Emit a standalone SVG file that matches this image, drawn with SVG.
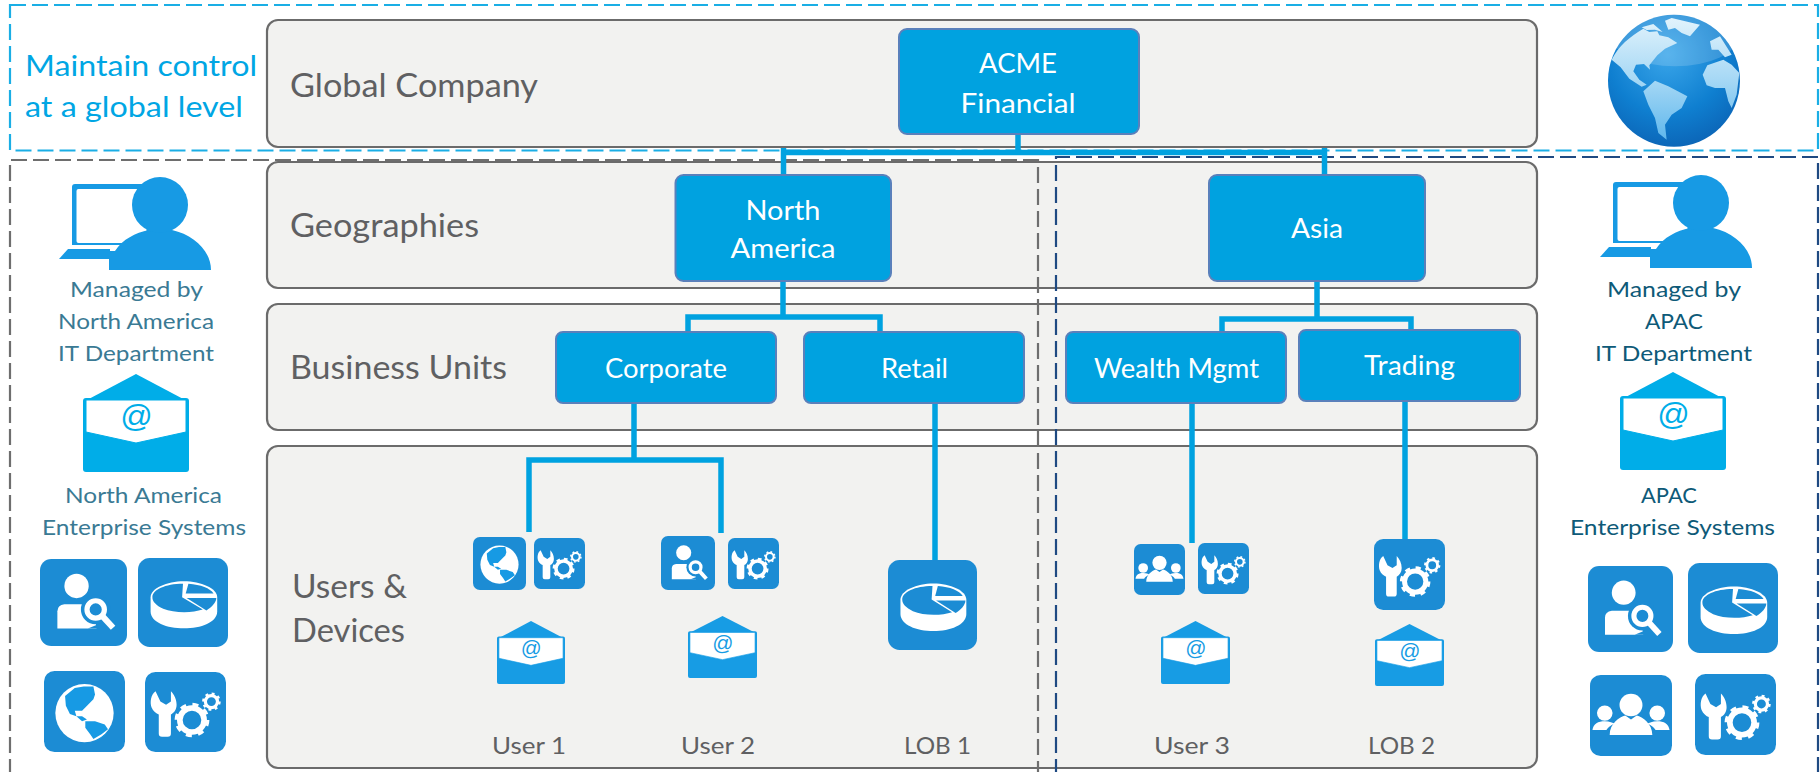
<svg xmlns="http://www.w3.org/2000/svg" width="1820" height="772" viewBox="0 0 1820 772">
<style>
text{font-family:Lato,"Liberation Sans",sans-serif}
.layer{fill:#f2f2f0;stroke:#6b6b6b;stroke-width:2.2}
.node{fill:#00a2e0;stroke:#5a80bb;stroke-width:2}
.lt{fill:#5f6062;font-size:32px}
.nt{fill:#fff;font-size:27px;text-anchor:middle}
.ut{fill:#5f6062;font-size:24px}
.sl{fill:#3a7a94;font-size:22px}
.sr{fill:#0e5a78;font-size:22px}
.ct{fill:#00a6e4;font-size:29px}
.dash{fill:none;stroke-width:2.2;stroke-dasharray:16 6}
.conn{fill:none;stroke:#00a2e0;stroke-width:5.5}
.at{font-family:"Liberation Sans",sans-serif;font-style:italic;font-size:32px;text-anchor:middle;fill:currentColor}
</style>
<defs>
<radialGradient id="ocean" cx="45%" cy="30%" r="75%"><stop offset="0" stop-color="#3aa6ea"/><stop offset=".6" stop-color="#0f7fd0"/><stop offset="1" stop-color="#0b62b4"/></radialGradient>
<linearGradient id="land" gradientUnits="userSpaceOnUse" x1="0" y1="30" x2="0" y2="400"><stop offset="0" stop-color="#e2f3fc"/><stop offset=".5" stop-color="#a6d8f5"/><stop offset="1" stop-color="#5db6ec"/></linearGradient>
<symbol id="manager" viewBox="0 0 153 94" preserveAspectRatio="none">
<rect x="13" y="7" width="80" height="64" rx="3" fill="#179ae4"/><rect x="17.500" y="12" width="70" height="54" rx="2" fill="#fff"/>
<rect x="13" y="68" width="50" height="5" fill="#fff"/>
<path d="M0,82 L9,72 H51 V82Z" fill="#179ae4"/>
<path d="M50,93 V74 H56 C64,62 76,56 90,53 H113 C135,58 152,74 152,93Z" fill="#179ae4"/>
<circle cx="101" cy="28" r="28" fill="#179ae4"/>
</symbol>
<symbol id="envelope" viewBox="0 0 106 98" preserveAspectRatio="none">
<rect x="0" y="24" width="106" height="74" rx="3" fill="currentColor"/>
<path d="M53,0 L104,27 H2Z" fill="currentColor"/>
<path d="M3,26 H103 V58 L53,69 L3,58Z" fill="#fff" stroke="currentColor" stroke-width="1"/>
<text class="at" x="53" y="53">@</text>
</symbol>
<symbol id="i-search" viewBox="0 0 100 100" preserveAspectRatio="none">
<rect width="100" height="100" rx="13" fill="#1c8cd4"/>
<circle cx="42" cy="31" r="14" fill="#fff"/>
<path d="M20,80 V60 Q20,53 28,52 H52 Q60,53 62,58 L65,80Z" fill="#fff"/>
<circle cx="64" cy="58" r="17" fill="#1c8cd4"/>
<path d="M55,80 L72,73 L80,80Z" fill="#1c8cd4"/>
<circle cx="64" cy="58" r="10" fill="none" stroke="#fff" stroke-width="6"/>
<path d="M72,66 L84,79" stroke="#fff" stroke-width="7"/>
</symbol>
<symbol id="i-pie" viewBox="0 0 100 100" preserveAspectRatio="none">
<rect width="100" height="100" rx="13" fill="#1c8cd4"/>
<path d="M14,44 V60 C14,72 32,79 51,79 C70,79 88,72 88,60 V44 C88,34 70,26 51,26 C32,26 14,34 14,44Z" fill="#fff"/>
<path d="M50,29 L49,44 L72,58 C60,62 40,62 28,57 C20,53 16,49 16,44 C16,36 30,29 50,29Z" fill="#1c8cd4"/>
<path d="M56,29 C70,30 80,34 84,40 L53,40Z" fill="#1c8cd4"/>
<path d="M54,45 L87,45 C87,50 82,55 76,59Z" fill="#1c8cd4"/>
</symbol>
<symbol id="i-globe" viewBox="0 0 100 100" preserveAspectRatio="none">
<rect width="100" height="100" rx="13" fill="#1c8cd4"/>
<circle cx="50" cy="52" r="36" fill="#fff"/>
<path d="M26,31 L38,21 L49,19 L61,19 L63,29 L61,35 L51,45 L47,49 L38,49 L40,56 L32,53 L27,43Z" fill="#179ae4"/>
<path d="M40,56 L47,56 L53,60 L47,62 Z" fill="#179ae4"/>
<path d="M51,62 L63,62 L75,66 L79,72 L71,78 L61,84 L57,78 L51,70Z" fill="#179ae4"/>
<path d="M62,87 C72,84 80,76 84,66 L78,76 L68,84Z" fill="#179ae4"/>
</symbol>
<g id="gears">
<circle cx="58" cy="60" r="15" fill="none" stroke="#fff" stroke-width="7"/>
<circle cx="58" cy="60" r="18.500" fill="none" stroke="#fff" stroke-width="6" stroke-dasharray="7 7.530"/>
<circle cx="82" cy="37" r="7.500" fill="none" stroke="#fff" stroke-width="4"/>
<circle cx="82" cy="37" r="10" fill="none" stroke="#fff" stroke-width="3" stroke-dasharray="3.500 4.350"/>
</g>
<symbol id="i-tool" viewBox="0 0 100 100" preserveAspectRatio="none">
<rect width="100" height="100" rx="13" fill="#1c8cd4"/>
<path d="M13,24 C7,28 6,38 8,44 C10,49 14,52 17,53 V77 Q17,81 21,81 H28 Q32,81 32,77 V53 C36,51 39,47 39,41 C39,34 36,28 32,24 V37 L26,41 L19,37Z" fill="#fff"/>
<use href="#gears"/>
</symbol>
<symbol id="i-people" viewBox="0 0 100 100" preserveAspectRatio="none">
<rect width="100" height="100" rx="13" fill="#1c8cd4"/>
<circle cx="50" cy="37" r="14" fill="#fff"/>
<path d="M24,74 C24,60 36,52 43,50 L50,55 L57,50 C64,52 76,60 76,74Z" fill="#fff"/>
<circle cx="18" cy="47" r="9.500" fill="#fff"/><circle cx="82" cy="47" r="9.500" fill="#fff"/>
<path d="M3,68 C4,60 10,57 18,57 C24,57 28,59 30,60 C24,63 21,66 20,68Z" fill="#fff"/>
<path d="M97,68 C96,60 90,57 82,57 C76,57 72,59 70,60 C76,63 79,66 80,68Z" fill="#fff"/>
</symbol>
<clipPath id="earth-clip"><circle cx="222" cy="218" r="198"/></clipPath>
</defs>
<rect width="1820" height="772" fill="#fff"/>
<g id="layers">
<g id="layer-global"><rect class="layer" x="267" y="20" width="1270" height="127" rx="11"/><text class="lt" x="290" y="97" textLength="248" lengthAdjust="spacingAndGlyphs">Global Company</text></g>
<g id="layer-geographies"><rect class="layer" x="267" y="162" width="1270" height="126" rx="11"/><text class="lt" x="290" y="237" textLength="189" lengthAdjust="spacingAndGlyphs">Geographies</text></g>
<g id="layer-business-units"><rect class="layer" x="267" y="304" width="1270" height="126" rx="11"/><text class="lt" x="290" y="379" textLength="217" lengthAdjust="spacingAndGlyphs">Business Units</text></g>
<g id="layer-users"><rect class="layer" x="267" y="446" width="1270" height="322" rx="11"/><text class="lt" x="292" y="598" textLength="115" lengthAdjust="spacingAndGlyphs">Users &amp;</text><text class="lt" x="292" y="642" textLength="113" lengthAdjust="spacingAndGlyphs">Devices</text></g>
</g>
<g id="regions">
<rect class="dash" x="10" y="5" width="1808" height="145.500" stroke="#1aaee5"/>
<path class="dash" d="M10,775 V160 H1038 V775" stroke="#6e6e6e"/>
<path class="dash" d="M1056,775 V157 H1818 V775" stroke="#1f4a82"/>
</g>
<g id="connectors">
<path class="conn" d="M1018,134 V152"/>
<path class="conn" d="M783.500,175 V148 M781,152.500 H1327 M1324.500,148 V175"/>
<path class="conn" d="M783,281 V317"/>
<path class="conn" d="M688,332 V317 H880 V332"/>
<path class="conn" d="M1317,281 V319"/>
<path class="conn" d="M1222,332 V319 H1411 V332"/>
<path class="conn" d="M634,403 V460"/>
<path class="conn" d="M529,532 V460 H721 V533"/>
<path class="conn" d="M935,403 V560"/>
<path class="conn" d="M1192,403 V543"/>
<path class="conn" d="M1405,401 V539"/>
</g>
<g id="node-acme"><rect class="node" x="899" y="29" width="240" height="105" rx="8"/><text class="nt" x="1018" y="73" textLength="78" lengthAdjust="spacingAndGlyphs">ACME</text><text class="nt" x="1018" y="113" textLength="115" lengthAdjust="spacingAndGlyphs">Financial</text></g>
<g id="node-north-america"><rect class="node" x="675.500" y="175" width="215.500" height="106" rx="8"/><text class="nt" x="783" y="220" textLength="75" lengthAdjust="spacingAndGlyphs">North</text><text class="nt" x="783" y="258" textLength="105" lengthAdjust="spacingAndGlyphs">America</text></g>
<g id="node-asia"><rect class="node" x="1209" y="175" width="216" height="106" rx="8"/><text class="nt" x="1317" y="238" textLength="52" lengthAdjust="spacingAndGlyphs">Asia</text></g>
<g id="node-corporate"><rect class="node" x="556" y="332" width="220" height="71" rx="7"/><text class="nt" x="666" y="378" textLength="122" lengthAdjust="spacingAndGlyphs">Corporate</text></g>
<g id="node-retail"><rect class="node" x="804" y="332" width="220" height="71" rx="7"/><text class="nt" x="914.500" y="378" textLength="67" lengthAdjust="spacingAndGlyphs">Retail</text></g>
<g id="node-wealth"><rect class="node" x="1066" y="332" width="220" height="71" rx="7"/><text class="nt" x="1176.500" y="378" textLength="165" lengthAdjust="spacingAndGlyphs">Wealth Mgmt</text></g>
<g id="node-trading"><rect class="node" x="1299" y="330" width="221" height="71" rx="7"/><text class="nt" x="1409.500" y="375" textLength="91" lengthAdjust="spacingAndGlyphs">Trading</text></g>
<g id="caption-global"><text class="ct" x="25" y="76" textLength="232" lengthAdjust="spacingAndGlyphs">Maintain control</text><text class="ct" x="25" y="117" textLength="218" lengthAdjust="spacingAndGlyphs">at a global level</text></g>
<g id="earth" transform="translate(1600,8) scale(.3333)">
<circle cx="222" cy="218" r="198" fill="url(#ocean)"/>
<g clip-path="url(#earth-clip)">
<ellipse cx="225" cy="85" rx="190" ry="90" fill="#fff" opacity=".16"/>
<g fill="url(#land)">
<path d="M35,155 L62,178 L88,212 L125,236 L140,230 L118,215 L100,190 L108,170 L132,168 L150,185 L148,172 L172,142 L195,122 L232,105 L205,88 L178,82 L172,70 L148,72 L130,62 C90,85 55,115 35,155Z"/>
<path d="M125,58 L160,48 L188,72 L165,65 L140,66Z"/>
<path d="M195,38 L215,30 L300,50 L270,85 L245,75 L225,60 L205,65Z"/>
<path d="M308,200 L322,172 L370,155 L395,170 L418,195 L410,260 L395,300 L385,280 L375,240 L345,240 L320,232Z"/>
<path d="M330,100 L360,85 L395,140 L375,148 L355,125 L335,125Z"/>
<path d="M130,250 L165,218 L205,235 L262,265 L245,300 L215,320 L195,350 L200,395 L175,375 L165,330 L145,290Z"/>
</g>
</g>
</g>
<g id="na-admin"><use href="#manager" x="59" y="177" width="153" height="94"/><text class="sl" text-anchor="middle" x="136.500" y="297" textLength="133" lengthAdjust="spacingAndGlyphs">Managed by</text><text class="sl" text-anchor="middle" x="136" y="329" textLength="156" lengthAdjust="spacingAndGlyphs">North America</text><text class="sl" text-anchor="middle" x="136" y="361" textLength="156" lengthAdjust="spacingAndGlyphs">IT Department</text></g>
<g id="na-mail" style="color:#00ade8"><use href="#envelope" x="83" y="374" width="106" height="98"/></g>
<g id="na-systems"><text class="sl" text-anchor="middle" x="143.500" y="503" textLength="157" lengthAdjust="spacingAndGlyphs">North America</text><text class="sl" text-anchor="middle" x="144" y="535" textLength="204" lengthAdjust="spacingAndGlyphs">Enterprise Systems</text>
<use href="#i-search" x="40" y="559" width="87" height="87"/><use href="#i-pie" x="138" y="558" width="90" height="89"/><use href="#i-globe" x="44" y="671" width="81" height="81"/><use href="#i-tool" x="145" y="672" width="81" height="80"/></g>
<g id="apac-admin"><use href="#manager" x="1600" y="175" width="153" height="94"/><text class="sr" text-anchor="middle" x="1674" y="297" textLength="134" lengthAdjust="spacingAndGlyphs">Managed by</text><text class="sr" text-anchor="middle" x="1674" y="329" textLength="58" lengthAdjust="spacingAndGlyphs">APAC</text><text class="sr" text-anchor="middle" x="1673.500" y="361" textLength="157" lengthAdjust="spacingAndGlyphs">IT Department</text></g>
<g id="apac-mail" style="color:#00ade8"><use href="#envelope" x="1620" y="372" width="106" height="98"/></g>
<g id="apac-systems"><text class="sr" text-anchor="middle" x="1669" y="503" textLength="56" lengthAdjust="spacingAndGlyphs">APAC</text><text class="sr" text-anchor="middle" x="1672.500" y="535" textLength="205" lengthAdjust="spacingAndGlyphs">Enterprise Systems</text>
<use href="#i-search" x="1588" y="566" width="85" height="86"/><use href="#i-pie" x="1688" y="563" width="90" height="90"/><use href="#i-people" x="1590" y="675" width="82" height="81"/><use href="#i-tool" x="1695" y="674" width="81" height="81"/></g>
<g id="user-1" style="color:#179ce4"><use href="#i-globe" x="473" y="537" width="53" height="53"/><use href="#i-tool" x="534" y="538" width="51" height="51"/><use href="#envelope" x="497" y="621" width="68" height="63"/><text class="ut" x="492" y="754" textLength="74" lengthAdjust="spacingAndGlyphs">User 1</text></g>
<g id="user-2" style="color:#179ce4"><use href="#i-search" x="661" y="536" width="54" height="54"/><use href="#i-tool" x="728" y="538" width="51" height="51"/><use href="#envelope" x="688" y="616" width="69" height="62"/><text class="ut" x="681" y="754" textLength="74" lengthAdjust="spacingAndGlyphs">User 2</text></g>
<g id="lob-1"><use href="#i-pie" x="888" y="560" width="89" height="90"/><text class="ut" x="904" y="754" textLength="67" lengthAdjust="spacingAndGlyphs">LOB 1</text></g>
<g id="user-3" style="color:#179ce4"><use href="#i-people" x="1134" y="544" width="51" height="51"/><use href="#i-tool" x="1198" y="543" width="51" height="51"/><use href="#envelope" x="1161" y="621" width="69" height="63"/><text class="ut" x="1154" y="754" textLength="76" lengthAdjust="spacingAndGlyphs">User 3</text></g>
<g id="lob-2" style="color:#179ce4"><use href="#i-tool" x="1374" y="539" width="71" height="71"/><use href="#envelope" x="1375" y="624" width="69" height="62"/><text class="ut" x="1368" y="754" textLength="67" lengthAdjust="spacingAndGlyphs">LOB 2</text></g>
</svg>
